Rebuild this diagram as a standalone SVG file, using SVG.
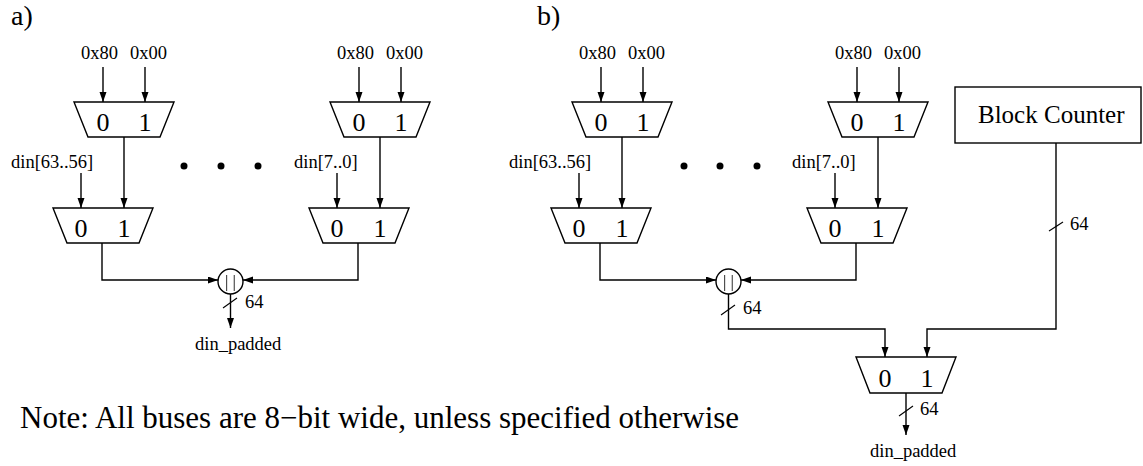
<svg xmlns="http://www.w3.org/2000/svg" width="1143" height="466" viewBox="0 0 1143 466">
<style>
text{font-family:"Liberation Serif","Times New Roman",serif;fill:#000}
.lbl{font-size:18.5px}
.dig{font-size:26px;text-anchor:middle}
.big{font-size:28px}
.note{font-size:31px}
.bc{font-size:25px}
.mux,.box,.cir{fill:#fff;stroke:#000;stroke-width:1.4}
.a{fill:none;stroke:#000;stroke-width:1.4;marker-end:url(#ah)}
.sl{stroke:#000;stroke-width:1.1}
.bars{font-size:17px;text-anchor:middle;letter-spacing:4.3px;opacity:0.99;will-change:transform}
</style>
<defs>
<marker id="ah" markerUnits="userSpaceOnUse" markerWidth="11" markerHeight="8" refX="10" refY="3.5" orient="auto">
<path d="M0,0 L10,3.5 L0,7 z" fill="#000"/>
</marker>
</defs>
<rect width="1143" height="466" fill="#fff"/>
<text class="big" x="11" y="25">a)</text>
<text class="big" x="537" y="25">b)</text>
<text class="note" x="20" y="428">Note: All buses are 8−bit wide, unless specified otherwise</text>

<g id="connectors">
<path class="a" d="M103,67 V102"/>
<path class="a" d="M145,67 V102"/>
<path class="a" d="M359,67 V102"/>
<path class="a" d="M401,67 V102"/>
<path class="a" d="M124,137 V208"/>
<path class="a" d="M380,137 V208"/>
<path class="a" d="M81,173 V208"/>
<path class="a" d="M337,173 V208"/>
<path class="a" d="M102,243 V280 H218"/>
<path class="a" d="M358,243 V280 H243"/>
<path class="a" d="M230.5,294 V328"/>
<line class="sl" x1="223" y1="308" x2="237" y2="298"/>
<path class="a" d="M601,67 V102"/>
<path class="a" d="M643,67 V102"/>
<path class="a" d="M857,67 V102"/>
<path class="a" d="M899,67 V102"/>
<path class="a" d="M622,137 V208"/>
<path class="a" d="M878,137 V208"/>
<path class="a" d="M579,173 V208"/>
<path class="a" d="M835,173 V208"/>
<path class="a" d="M600,243 V280 H716"/>
<path class="a" d="M856,243 V280 H741"/>
<path class="a" d="M728.5,294 V329 H885 V357"/>
<line class="sl" x1="721" y1="315" x2="735" y2="305"/>
<path class="a" d="M1056,143 V329 H927 V357"/>
<line class="sl" x1="1049" y1="231" x2="1063" y2="222"/>
<path class="a" d="M906,393 V435"/>
<line class="sl" x1="899" y1="416" x2="913" y2="406"/>
</g>

<g id="labels">
<text class="lbl" x="81" y="59">0x80</text>
<text class="lbl" x="130" y="59">0x00</text>
<text class="lbl" x="337" y="59">0x80</text>
<text class="lbl" x="386" y="59">0x00</text>
<text class="lbl" x="11" y="168">din[63..56]</text>
<text class="lbl" x="294" y="168">din[7..0]</text>
<text class="lbl" x="245" y="308">64</text>
<text class="lbl" x="195" y="350">din_padded</text>
<text class="lbl" x="579" y="59">0x80</text>
<text class="lbl" x="628" y="59">0x00</text>
<text class="lbl" x="835" y="59">0x80</text>
<text class="lbl" x="884" y="59">0x00</text>
<text class="lbl" x="509" y="168">din[63..56]</text>
<text class="lbl" x="792" y="168">din[7..0]</text>
<text class="lbl" x="743" y="314">64</text>
<text class="lbl" x="1070" y="230">64</text>
<text class="lbl" x="920" y="415">64</text>
<text class="lbl" x="870" y="457">din_padded</text>
</g>

<g id="dots-a">
<circle cx="184" cy="166" r="3.5"/>
<circle cx="221" cy="166" r="3.5"/>
<circle cx="258" cy="166" r="3.5"/>
</g>
<g id="dots-b">
<circle cx="684" cy="166" r="3.5"/>
<circle cx="720" cy="166" r="3.5"/>
<circle cx="757" cy="166" r="3.5"/>
</g>

<g id="a-mux-pad-hi">
<polygon class="mux" points="74,102 174,102 160,137 88,137"/>
<text class="dig" x="103" y="131">0</text><text class="dig" x="145" y="131">1</text>
</g>
<g id="a-mux-data-hi">
<polygon class="mux" points="53,208 153,208 139,243 67,243"/>
<text class="dig" x="81" y="237">0</text><text class="dig" x="124" y="237">1</text>
</g>
<g id="a-mux-pad-lo">
<polygon class="mux" points="330,102 430,102 416,137 344,137"/>
<text class="dig" x="359" y="131">0</text><text class="dig" x="401" y="131">1</text>
</g>
<g id="a-mux-data-lo">
<polygon class="mux" points="309,208 409,208 395,243 323,243"/>
<text class="dig" x="337" y="237">0</text><text class="dig" x="380" y="237">1</text>
</g>
<g id="a-concat">
<circle class="cir" cx="230.5" cy="281.5" r="12.5"/>
<text class="bars" x="232.6" y="287">||</text>
</g>

<g id="b-mux-pad-hi">
<polygon class="mux" points="572,102 672,102 658,137 586,137"/>
<text class="dig" x="601" y="131">0</text><text class="dig" x="643" y="131">1</text>
</g>
<g id="b-mux-data-hi">
<polygon class="mux" points="551,208 651,208 637,243 565,243"/>
<text class="dig" x="579" y="237">0</text><text class="dig" x="622" y="237">1</text>
</g>
<g id="b-mux-pad-lo">
<polygon class="mux" points="828,102 928,102 914,137 842,137"/>
<text class="dig" x="857" y="131">0</text><text class="dig" x="899" y="131">1</text>
</g>
<g id="b-mux-data-lo">
<polygon class="mux" points="807,208 907,208 893,243 821,243"/>
<text class="dig" x="835" y="237">0</text><text class="dig" x="878" y="237">1</text>
</g>
<g id="b-concat">
<circle class="cir" cx="728.5" cy="281.5" r="12.5"/>
<text class="bars" x="730.6" y="287">||</text>
</g>
<g id="block-counter">
<rect class="box" x="955" y="87" width="186" height="56"/>
<text class="bc" x="978" y="123">Block Counter</text>
</g>
<g id="b-mux-out">
<polygon class="mux" points="856,357 956,357 942,393 870,393"/>
<text class="dig" x="885" y="387">0</text><text class="dig" x="927" y="387">1</text>
</g>
</svg>
